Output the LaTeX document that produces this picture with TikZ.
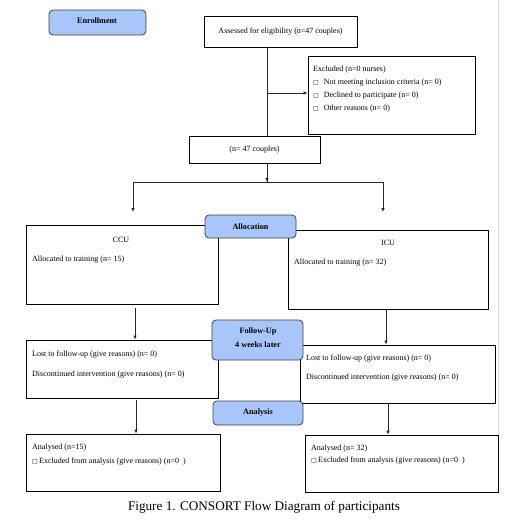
\documentclass[tikz,border=0pt]{standalone}
\usepackage{fontspec}
\setmainfont{Liberation Serif}
\newfontfamily\dejavu{DejaVu Sans}
\usetikzlibrary{arrows.meta}
\definecolor{phase}{RGB}{168,198,250}
\newcommand{\sqb}{{\dejavu\fontsize{6}{7}\selectfont □}}
\tikzset{
  plainbox/.style={draw=black, line width=0.8pt, inner sep=0pt, fill=white},
  phasebox/.style={draw=black!75, line width=0.8pt, rounded corners=4pt, fill=phase, inner sep=0pt},
  txt/.style={inner sep=0pt, font=\fontsize{8}{9}\selectfont, anchor=west},
  ctxt/.style={inner sep=0pt, font=\fontsize{8}{9}\selectfont},
  btxt/.style={inner sep=0pt, font=\fontsize{8.2}{9}\selectfont\bfseries},
  conn/.style={line width=0.8pt, draw=black!85},
  arr/.style={conn, -{Latex[length=4pt,width=3.5pt]}},
}
\newcommand{\bx}[6]{\node[#6, minimum width={(#4-#2)*1pt}, minimum height={(#5-#3)*1pt}] (#1) at ({(#2+#4)/2},{-(#3+#5)/2}) {};}
\begin{document}
\begin{tikzpicture}[x=1pt,y=1pt]
\useasboundingbox (0,0) rectangle (506,-520);
% page edge line
\draw[black!15, line width=0.8pt] (498,0) -- (498,-435);
% plain boxes
\bx{assess}{204}{16}{357}{47}{plainbox}
\bx{excl}{308}{56}{475}{134}{plainbox}
\bx{n47}{189}{136}{320}{163}{plainbox}
\bx{ccu}{26}{225}{218}{304}{plainbox}
\bx{icu}{288}{230}{488}{309}{plainbox}
\bx{lostl}{26}{340}{218}{398}{plainbox}
\bx{lostr}{300}{345}{495}{403}{plainbox}
\bx{anl}{26}{434}{220}{491}{plainbox}
\bx{anr}{305}{435}{498}{492}{plainbox}
% phase boxes
\bx{enrol}{49}{10}{146}{35}{phasebox}
\bx{alloc}{205}{215}{296}{238}{phasebox}
\bx{follow}{212}{320}{303}{360}{phasebox}
\bx{analysis}{213}{401}{303}{425}{phasebox}
% texts
\node[btxt] at (97,-21) {Enrollment};
\node[ctxt] at (assess) {Assessed for eligibility (n=47 couples)};
\node[txt] at (313,-70) {Excluded (n=0 nurses)};
\node[txt] at (313,-83) {\sqb\hspace{5pt}Not meeting inclusion criteria (n= 0)};
\node[txt] at (313,-96) {\sqb\hspace{5pt}Declined to participate (n= 0)};
\node[txt] at (313,-109) {\sqb\hspace{5pt}Other reasons (n= 0)};
\node[ctxt] at (n47) {(n= 47 couples)};
\node[btxt] at (alloc) {Allocation};
\node[ctxt] at (121,-240) {CCU};
\node[txt] at (32,-260) {Allocated to training (n= 15)};
\node[ctxt] at (388,-243) {ICU};
\node[txt] at (294,-263) {Allocated to training (n= 32)};
\node[btxt] at (258,-332) {Follow-Up};
\node[btxt] at (258,-345) {4 weeks later};
\node[txt] at (32,-355) {Lost to follow-up (give reasons) (n= 0)};
\node[txt] at (32,-375) {Discontinued intervention (give reasons) (n= 0)};
\node[txt] at (306,-359) {Lost to follow-up (give reasons) (n= 0)};
\node[txt] at (306,-378) {Discontinued intervention (give reasons) (n= 0)};
\node[btxt] at (analysis) {Analysis};
\node[txt] at (32,-448) {Analysed (n=15)};
\node[txt] at (32,-462) {\sqb\,Excluded from analysis (give reasons) (n=0\enspace)};
\node[txt] at (311,-449) {Analysed (n= 32)};
\node[txt] at (311,-461) {\sqb\,Excluded from analysis (give reasons) (n=0\enspace)};
\node[font=\fontsize{13.2}{15}\selectfont, inner sep=0pt] (cap) at (264,-507) {Figure 1. CONSORT Flow Diagram of participants};
% connectors
\coordinate (j1) at (267,-93);
\coordinate (split) at (267,-182);
\coordinate (sl) at (133,-182);
\coordinate (sr) at (383,-182);
\draw[conn] (assess.south -| j1) -- (n47.north -| j1);
\draw[arr] (j1) -- (excl.west |- j1);
\draw[conn] (n47.south -| split) -- (split);
\draw[conn] (sl) -- (sr);
\draw[arr] (split) ++(0,0) -- ++(0,-0.1);
\draw[arr] (sl) -- (133,-212);
\draw[arr] (sr) -- (383,-212);
\coordinate (ccuo) at (135,-308);
\draw[arr] (ccuo) -- (lostl.north -| ccuo);
\coordinate (icuo) at (386,-310);
\draw[arr] (icuo) -- (lostr.north -| icuo);
\coordinate (llo) at (136,-400);
\draw[arr] (llo) -- (anl.north -| llo);
\coordinate (lro) at (388,-403);
\draw[arr] (lro) -- (anr.north -| lro);
\end{tikzpicture}
\end{document}
